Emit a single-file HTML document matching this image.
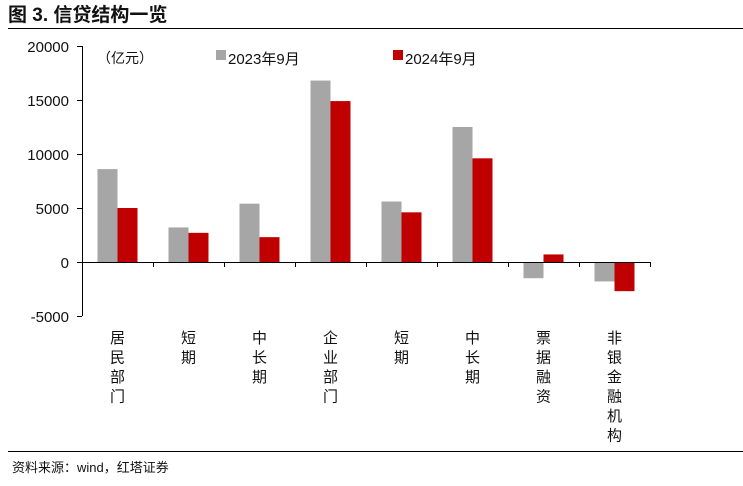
<!DOCTYPE html>
<html><head><meta charset="utf-8"><style>
body{margin:0;background:#fff;width:743px;height:481px;overflow:hidden;font-family:"Liberation Sans","Noto Sans CJK SC",sans-serif;}
svg text{font-family:"Liberation Sans","Noto Sans CJK SC",sans-serif;}
</style></head><body>
<svg id="c" width="743" height="481" xmlns="http://www.w3.org/2000/svg">
<text x="8" y="21" font-size="19" font-weight="bold" fill="#111">图 3. 信贷结构一览</text>
<line x1="8" y1="28.5" x2="743" y2="28.5" stroke="#000" stroke-width="1"/>
<text x="97" y="63" font-size="14" fill="#111">（亿元）</text>
<rect x="216" y="50" width="10" height="10" fill="#a6a6a6"/>
<text x="228" y="64" font-size="15" fill="#111">2023年9月</text>
<rect x="393" y="50" width="10" height="10" fill="#c00000"/>
<text x="405" y="64" font-size="15" fill="#111">2024年9月</text>
<g id="plot"></g>
<line x1="8" y1="451.5" x2="743" y2="451.5" stroke="#000" stroke-width="1"/>
<text x="12" y="472" font-size="13" fill="#111">资料来源：wind，红塔证券</text>
</svg>
<script>
const categories=[["居","民","部","门"],["短","期"],["中","长","期"],["企","业","部","门"],["短","期"],["中","长","期"],["票","据","融","资"],["非","银","金","融","机","构"]];
const series2023=[8600,3200,5400,16800,5600,12500,-1500,-1800];
const series2024=[5000,2700,2300,14900,4600,9600,700,-2700];
const yTicks=[20000,15000,10000,5000,0,-5000];
const NS="http://www.w3.org/2000/svg";
const g=document.getElementById('plot');
const x0=82,x1=650,y0v=262,pxPer=216/20000;
const y=v=>y0v-v*pxPer;
const bw=(x1-x0)/categories.length;
function el(t,a){const e=document.createElementNS(NS,t);for(const k in a)e.setAttribute(k,a[k]);g.appendChild(e);return e;}
let ax=el('line',{x1:x0+.5,y1:y(20000),x2:x0+.5,y2:y(-5000),stroke:'#000'});


yTicks.forEach(v=>{
 const t=el('line',{x1:x0-5,x2:x0,y1:Math.round(y(v))+.5,y2:Math.round(y(v))+.5,stroke:'#000'});
 
 
 const l=el('text',{x:x0-13,y:y(v)+6,'font-size':15,'text-anchor':'end',fill:'#111'});
 l.textContent=v;
 
 
});
categories.forEach((c,i)=>{
 const cx=x0+bw*(i+0.5);
 const a=series2023[i],b=series2024[i];
 const r1=el('rect',{x:cx-20,y:Math.min(y(a),y(0)),width:20,height:Math.abs(y(a)-y(0)),fill:'#a6a6a6'});
 
 
 const r2=el('rect',{x:cx,y:Math.min(y(b),y(0)),width:20,height:Math.abs(y(b)-y(0)),fill:'#c00000'});
 
 
 c.forEach((ch,j)=>{
  const t=el('text',{x:cx,y:343+j*19.5,'font-size':15,'text-anchor':'middle',fill:'#111'});
  t.textContent=ch;
  
  
 });
 const tk=el('line',{x1:Math.round(x0+bw*(i+1))+.5,x2:Math.round(x0+bw*(i+1))+.5,y1:y(0),y2:y(0)+5,stroke:'#000'});
 
 
});
const xa=el('line',{x1:x0,x2:x1,y1:y(0)+.5,y2:y(0)+.5,stroke:'#000'});


</script>
</body></html>
